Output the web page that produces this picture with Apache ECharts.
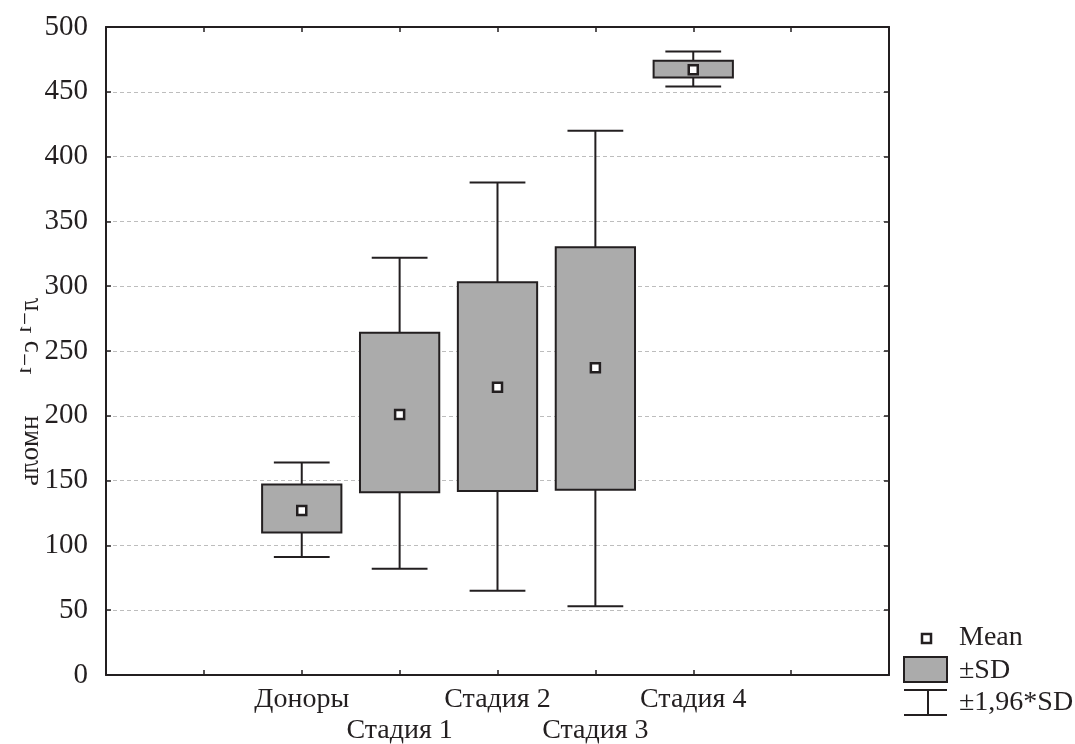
<!DOCTYPE html>
<html>
<head>
<meta charset="utf-8">
<script src="https://cdn.jsdelivr.net/npm/echarts@6/dist/echarts.min.js"></script>
<style>
  html, body { margin: 0; padding: 0; background: #fff; }
  #chart { width: 1075px; height: 744px; }
</style>
</head>
<body>
<div id="chart"></div>
<script>
// groups along the x axis
var categories = ['Доноры', 'Стадия 1', 'Стадия 2', 'Стадия 3', 'Стадия 4']
// mean, mean±SD, mean±1,96*SD  (нмоль л-1 с-1)
var means   = [127, 201, 222, 237, 467]
var sdLow   = [110, 141, 142, 143, 461]
var sdHigh  = [147, 264, 303, 330, 474]
var ciLow   = [91, 82, 65, 53, 454]
var ciHigh  = [164, 322, 380, 420, 481]
var yTicks  = { min: 0, max: 500, step: 50 }

var ink = '#231f20'
var serif = '"Liberation Serif", "DejaVu Serif", serif'

// first category sits on the 3rd tick of an 8-interval axis
var offset = 2
var seriesData = categories.map(function (c, i) {
  return [i + offset, ciLow[i], sdLow[i], means[i], sdHigh[i], ciHigh[i]]
})

function renderBox(params, api) {
  var x = api.value(0)
  var unit = api.size([1, 0])[0]
  var bw = unit * 0.81
  var cw = unit * 0.57
  var pLo = api.coord([x, api.value(1)])
  var pQ1 = api.coord([x, api.value(2)])
  var pM = api.coord([x, api.value(3)])
  var pQ3 = api.coord([x, api.value(4)])
  var pHi = api.coord([x, api.value(5)])
  var line = { stroke: ink, lineWidth: 2 }
  return {
    type: 'group',
    children: [
      { type: 'line', shape: { x1: pHi[0], y1: pHi[1], x2: pLo[0], y2: pLo[1] }, style: line },
      { type: 'line', shape: { x1: pHi[0] - cw / 2, y1: pHi[1], x2: pHi[0] + cw / 2, y2: pHi[1] }, style: line },
      { type: 'line', shape: { x1: pLo[0] - cw / 2, y1: pLo[1], x2: pLo[0] + cw / 2, y2: pLo[1] }, style: line },
      {
        type: 'rect',
        shape: { x: pQ3[0] - bw / 2, y: pQ3[1], width: bw, height: pQ1[1] - pQ3[1] },
        style: { fill: '#ababab', stroke: ink, lineWidth: 2 }
      },
      {
        type: 'rect',
        shape: { x: pM[0] - 4.5, y: pM[1] - 4.5, width: 9, height: 9 },
        style: { fill: '#fff', stroke: ink, lineWidth: 2.5 }
      }
    ]
  }
}

var frameAxis = {
  axisLine: { onZero: false, lineStyle: { color: ink, width: 2 } },
  axisTick: { inside: true, length: 5, lineStyle: { color: ink, width: 1.5 } }
}

var chart = echarts.init(document.getElementById('chart'))

chart.setOption({
  backgroundColor: '#FFFFFF',
  animation: false,
  grid: { left: 106, right: 186, top: 27, bottom: 69, containLabel: false, outerBoundsMode: 'none' },
  xAxis: [
    {
      type: 'value',
      min: 0,
      max: categories.length + 2 * offset - 1,
      interval: 1,
      axisLine: frameAxis.axisLine,
      axisTick: frameAxis.axisTick,
      splitLine: { show: false },
      axisLabel: {
        margin: 9,
        color: ink,
        fontFamily: serif,
        fontSize: 28,
        lineHeight: 31,
        formatter: function (v) {
          var i = v - offset
          if (i < 0 || i >= categories.length) return ''
          return i % 2 ? '\n' + categories[i] : categories[i]
        }
      }
    },
    {
      type: 'value',
      position: 'top',
      min: 0,
      max: categories.length + 2 * offset - 1,
      interval: 1,
      axisLine: frameAxis.axisLine,
      axisTick: frameAxis.axisTick,
      axisLabel: { show: false },
      splitLine: { show: false }
    }
  ],
  yAxis: [
    {
      type: 'value',
      min: yTicks.min,
      max: yTicks.max,
      interval: yTicks.step,
      axisLine: { show: true, onZero: false, lineStyle: { color: ink, width: 2 } },
      axisTick: { show: true, inside: true, length: 5, lineStyle: { color: ink, width: 1.5 } },
      splitLine: { show: true, lineStyle: { color: '#bdbdbd', width: 1, type: [4, 3] } },
      axisLabel: { margin: 18, color: ink, fontFamily: serif, fontSize: 29 }
    },
    {
      type: 'value',
      position: 'right',
      min: yTicks.min,
      max: yTicks.max,
      interval: yTicks.step,
      axisLine: { show: true, onZero: false, lineStyle: { color: ink, width: 2 } },
      axisTick: { show: true, inside: true, length: 5, lineStyle: { color: ink, width: 1.5 } },
      axisLabel: { show: false },
      splitLine: { show: false }
    }
  ],
  series: [
    {
      type: 'custom',
      renderItem: renderBox,
      encode: { x: 0, y: [1, 2, 3, 4, 5] },
      data: seriesData,
      z: 5
    }
  ],
  graphic: [
    // y axis title, printed mirrored as in the source figure
    {
      type: 'text',
      x: 31,
      y: 392,
      rotation: Math.PI / 2,
      scaleX: -1,
      style: {
        text: 'л⁻¹ с⁻¹      нмоль',
        font: '27px ' + serif,
        align: 'center',
        verticalAlign: 'middle',
        fill: ink
      }
    },
    // legend
    {
      type: 'rect',
      shape: { x: 922, y: 634, width: 9, height: 9 },
      style: { fill: '#fff', stroke: ink, lineWidth: 2.5 }
    },
    {
      type: 'text', x: 959, y: 638,
      style: { text: 'Mean', font: '28px ' + serif, fill: ink, verticalAlign: 'middle' }
    },
    {
      type: 'rect',
      shape: { x: 904, y: 657, width: 43, height: 25 },
      style: { fill: '#ababab', stroke: ink, lineWidth: 2 }
    },
    {
      type: 'text', x: 959, y: 671,
      style: { text: '±SD', font: '28px ' + serif, fill: ink, verticalAlign: 'middle' }
    },
    {
      type: 'line', shape: { x1: 904, y1: 690, x2: 947, y2: 690 },
      style: { stroke: ink, lineWidth: 2 }
    },
    {
      type: 'line', shape: { x1: 904, y1: 715, x2: 947, y2: 715 },
      style: { stroke: ink, lineWidth: 2 }
    },
    {
      type: 'line', shape: { x1: 928, y1: 690, x2: 928, y2: 715 },
      style: { stroke: ink, lineWidth: 2 }
    },
    {
      type: 'text', x: 959, y: 703,
      style: { text: '±1,96*SD', font: '28px ' + serif, fill: ink, verticalAlign: 'middle' }
    }
  ]
})
</script>
</body>
</html>
